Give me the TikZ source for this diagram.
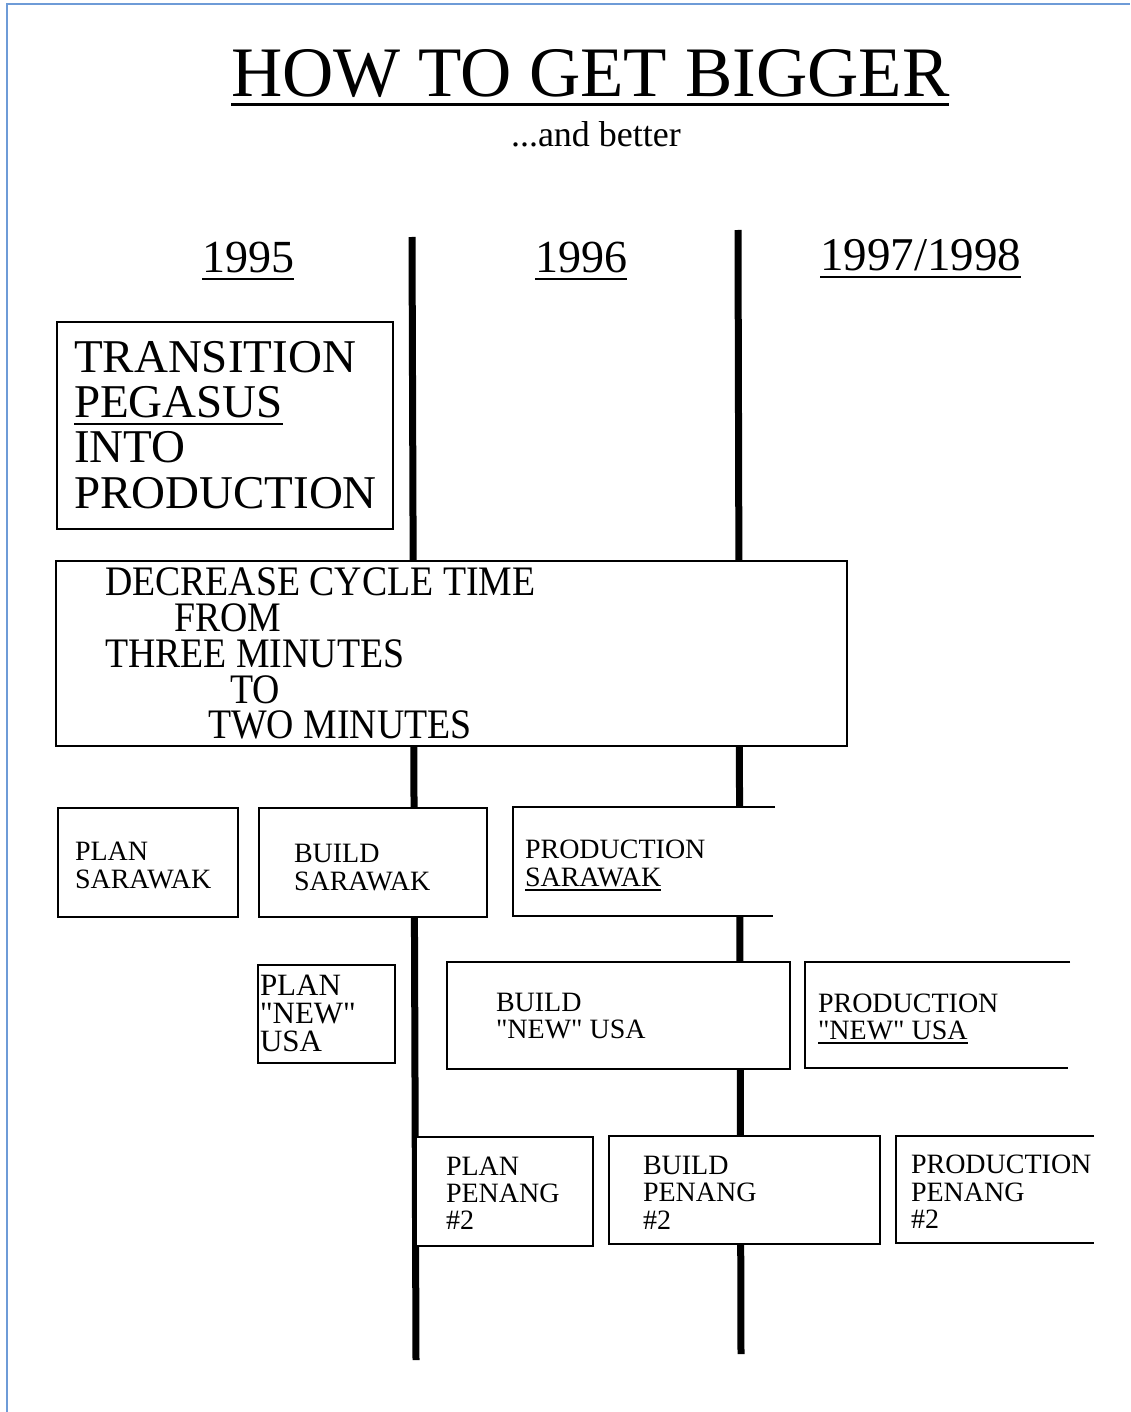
\documentclass[tikz,border=0pt]{standalone}
\usepackage{fontspec}
\setmainfont{Liberation Serif}
\newfontfamily\condfont[FakeStretch=0.9]{Liberation Serif}
\usetikzlibrary{calc}
\definecolor{frameblue}{RGB}{110,155,215}
\newcommand{\fsz}[1]{\fontsize{#1}{#1}\selectfont}
\font\qfA="Liberation Serif" at 28pt
\font\qfB="Liberation Serif" at 31pt
\newcommand{\sqa}{{\qfA\char34}}
\newcommand{\sqb}{{\qfB\char34}}
\begin{document}
\begin{tikzpicture}[x=1pt,y=-1pt,
  txt/.style={anchor=base west, inner sep=0pt, outer sep=0pt},
  boxline/.style={draw=black, line width=2pt, fill=white},
  axisline/.style={line width=7pt, black},
  uline/.style={line width=2pt}]
\useasboundingbox (0,0) rectangle (1130,1412);
\fill[white] (0,0) rectangle (1130,1412);
\draw[frameblue, line width=2pt] (7,1412) -- (7,4) -- (1130,4);

% title
\node[txt, font=\fsz{71}] (title) at (231,97) {HOW TO GET BIGGER};
\draw[line width=3pt] ($(title.base west)+(0,8)$) -- ($(title.base east)+(0,8)$);
\node[txt, font=\fsz{36}] (sub) at (511,147) {...and better};

% years
\node[txt, font=\fsz{46}] (y95) at (202,273) {1995};
\draw[uline] ($(y95.base west)+(0,6)$) -- ($(y95.base east)+(0,6)$);
\node[txt, font=\fsz{46}] (y96) at (535,273) {1996};
\draw[uline] ($(y96.base west)+(0,6)$) -- ($(y96.base east)+(0,6)$);
\node[txt, font=\fsz{47}] (y97) at (820,271) {1997/1998};
\draw[uline] ($(y97.base west)+(0,6)$) -- ($(y97.base east)+(0,6)$);

% time axes
\coordinate (a1top) at (412,237);
\coordinate (a1bot) at (416,1360);
\coordinate (a2top) at (738,230);
\coordinate (a2bot) at (741,1354);
\draw[axisline] (a1top) -- (a1bot);
\draw[axisline] (a2top) -- (a2bot);

% transition box
\draw[boxline] (57,322) rectangle (393,529);
\node[txt, font=\fsz{47}] (tr1) at (74,372) {TRANSITION};
\node[txt, font=\fsz{47}] (tr2) at (74,417) {PEGASUS};
\draw[uline] ($(tr2.base west)+(0,7)$) -- ($(tr2.base east)+(0,7)$);
\node[txt, font=\fsz{47}] (tr3) at (74,462) {INTO};
\node[txt, font=\fsz{47}] (tr4) at (74,508) {PRODUCTION};

% decrease box
\draw[boxline] (56,561) rectangle (847,746);
\node[txt, font=\condfont\fsz{42}] (d1) at (105,595) {DECREASE CYCLE TIME};
\node[txt, font=\condfont\fsz{42}] (d2) at (174,631) {FROM};
\node[txt, font=\condfont\fsz{42}] (d3) at (105,667) {THREE MINUTES};
\node[txt, font=\condfont\fsz{42}] (d4) at (230,703) {TO};
\node[txt, font=\condfont\fsz{42}] (d5) at (208,738) {TWO MINUTES};

% row 1 - Sarawak
\draw[boxline] (58,808) rectangle (238,917);
\node[txt, font=\fsz{28}] (ps1) at (75,860) {PLAN};
\node[txt, font=\fsz{28}] (ps2) at (75,888) {SARAWAK};
\draw[boxline] (259,808) rectangle (487,917);
\node[txt, font=\fsz{28}] (bs1) at (294,862) {BUILD};
\node[txt, font=\fsz{28}] (bs2) at (294,890) {SARAWAK};
\fill[white] (513,807) rectangle (775,916);
\draw[line width=2pt] (775,807) -- (513,807) -- (513,916) -- (773,916);
\node[txt, font=\fsz{28}] (prs1) at (525,858) {PRODUCTION};
\node[txt, font=\fsz{28}] (prs2) at (525,886) {SARAWAK};
\draw[uline] ($(prs2.base west)+(0,4)$) -- ($(prs2.base east)+(0,4)$);

% row 2 - new USA
\draw[boxline] (258,965) rectangle (395,1063);
\node[txt, font=\fsz{31}] (pu1) at (260,995) {PLAN};
\node[txt, font=\fsz{31}] (pu2) at (260,1023) {\sqb NEW\sqb};
\node[txt, font=\fsz{31}] (pu3) at (260,1051) {USA};
\draw[boxline] (447,962) rectangle (790,1069);
\node[txt, font=\fsz{28}] (bu1) at (496,1011) {BUILD};
\node[txt, font=\fsz{28}] (bu2) at (496,1038) {\sqa NEW\sqa{} USA};
\fill[white] (805,962) rectangle (1070,1068);
\draw[line width=2pt] (1070,962) -- (805,962) -- (805,1068) -- (1068,1068);
\node[txt, font=\fsz{28}] (pru1) at (818,1012) {PRODUCTION};
\node[txt, font=\fsz{28}] (pru2) at (818,1039) {\sqa NEW\sqa{} USA};
\draw[uline] ($(pru2.base west)+(0,4)$) -- ($(pru2.base east)+(0,4)$);

% row 3 - Penang
\draw[boxline] (416,1137) rectangle (593,1246);
\node[txt, font=\fsz{28}] (pp1) at (446,1175) {PLAN};
\node[txt, font=\fsz{28}] (pp2) at (446,1202) {PENANG};
\node[txt, font=\fsz{28}] (pp3) at (446,1229) {\#2};
\draw[boxline] (609,1136) rectangle (880,1244);
\node[txt, font=\fsz{28}] (bp1) at (643,1174) {BUILD};
\node[txt, font=\fsz{28}] (bp2) at (643,1201) {PENANG};
\node[txt, font=\fsz{28}] (bp3) at (643,1229) {\#2};
\fill[white] (896,1136) rectangle (1094,1243);
\draw[line width=2pt] (1094,1136) -- (896,1136) -- (896,1243) -- (1094,1243);
\node[txt, font=\fsz{28}] (prp1) at (911,1173) {PRODUCTION};
\node[txt, font=\fsz{28}] (prp2) at (911,1201) {PENANG};
\node[txt, font=\fsz{28}] (prp3) at (911,1228) {\#2};
\end{tikzpicture}
\end{document}
